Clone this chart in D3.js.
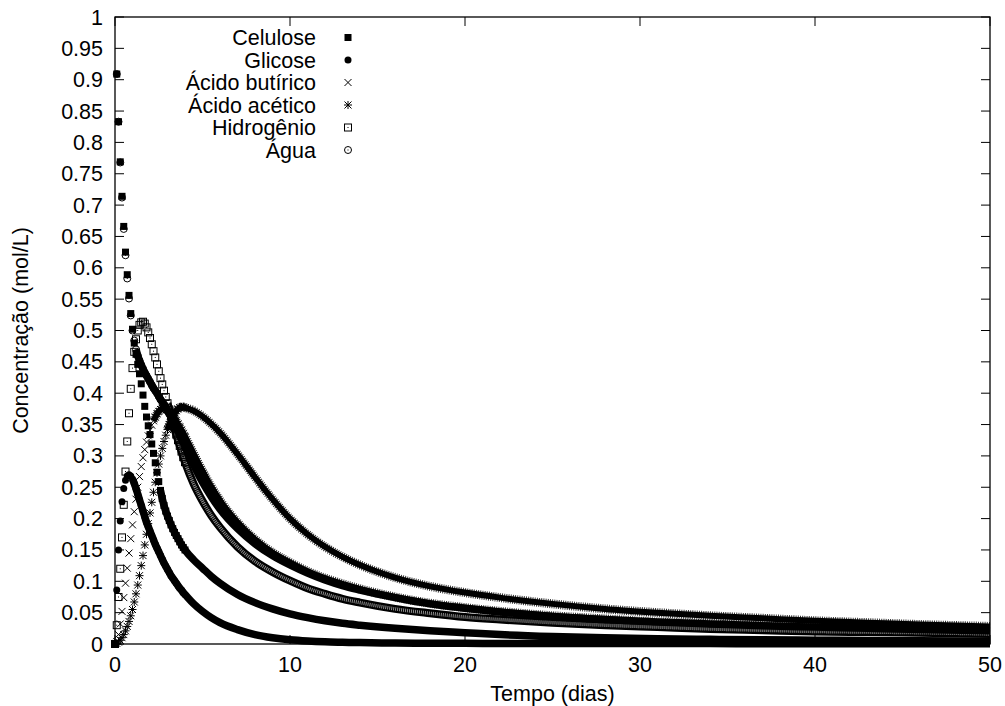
<!DOCTYPE html>
<html>
<head>
<meta charset="utf-8">
<script src="https://cdn.jsdelivr.net/npm/d3@7"></script>
<style>
  body { margin: 0; background: #fff; }
  svg { display: block; font-family: "Liberation Sans", Arial, Helvetica, sans-serif; }
</style>
</head>
<body>
<svg id="chart" width="1005" height="706"></svg>
<script>
// Tempo (dias): passo de 0.1 no início, mais espaçado na cauda
const tempo = [0,0.1,0.2,0.3,0.4,0.5,0.6,0.7,0.8,0.9,1,1.1,1.2,1.3,1.4,1.5,1.6,1.7,1.8,1.9,2,
  2.1,2.2,2.3,2.4,2.5,2.6,2.7,2.8,2.9,3,3.1,3.2,3.3,3.4,3.5,3.6,3.7,3.8,3.9,4,
  4.5,5,5.5,6,7,8,9,10,11,12,13,14,16,18,20,22,25,28,31,34,37,40,43,46,50];

// Concentrações (mol/L)
const celulose = [null,0.909,0.833,0.769,0.714,0.666,0.625,0.589,0.556,0.527,0.502,0.480,0.462,0.446,0.431,0.415,0.397,0.379,0.362,0.348,0.334,
  0.319,0.304,0.289,0.274,0.259,0.245,0.232,0.221,0.212,0.204,0.197,0.190,0.184,0.178,0.173,0.168,0.163,0.158,0.154,0.150,
  0.134,0.121,0.108,0.097,0.079,0.066,0.056,0.048,0.042,0.037,0.033,0.030,0.025,0.021,0.018,0.015,0.012,0.010,0.0085,0.0075,0.0066,0.006,0.0054,0.005,0.0045];
const glicose = [0,0.086,0.150,0.196,0.227,0.248,0.261,0.268,0.270,0.268,0.263,0.256,0.248,0.239,0.230,0.221,0.212,0.203,0.194,0.187,0.180,
  0.173,0.166,0.159,0.153,0.147,0.141,0.135,0.129,0.124,0.119,0.114,0.109,0.105,0.101,0.097,0.093,0.089,0.086,0.082,0.079,
  0.064,0.052,0.042,0.034,0.023,0.015,0.010,0.0068,0.0048,0.0035,0.0028,0.0022,0.0016,0.0012,0.001,0.0009,0.0008,0.0007,0.0006,0.0006,0.0005,0.0005,0.0005,0.0004,0.0004];
const acidoButirico = [0,0.004,0.015,0.032,0.052,0.074,0.097,0.121,0.145,0.168,0.190,0.211,0.231,0.250,0.267,0.283,0.297,0.310,0.322,0.332,0.341,
  0.349,0.356,0.362,0.367,0.371,0.374,0.376,0.376,0.375,0.373,0.371,0.368,0.364,0.360,0.356,0.351,0.346,0.341,0.336,0.331,
  0.303,0.276,0.251,0.229,0.194,0.167,0.146,0.130,0.116,0.105,0.096,0.088,0.075,0.065,0.058,0.052,0.045,0.040,0.035,0.032,0.029,0.027,0.025,0.023,0.021];
const acidoAcetico = [0,0.001,0.003,0.006,0.010,0.015,0.021,0.028,0.036,0.045,0.055,0.067,0.080,0.094,0.109,0.125,0.141,0.158,0.175,0.192,0.209,
  0.226,0.242,0.258,0.273,0.287,0.300,0.312,0.323,0.333,0.342,0.350,0.357,0.363,0.368,0.372,0.375,0.377,0.378,0.378,0.377,
  0.372,0.363,0.351,0.337,0.303,0.266,0.231,0.200,0.175,0.155,0.139,0.126,0.106,0.092,0.082,0.074,0.064,0.056,0.050,0.045,0.041,0.037,0.034,0.031,0.028];
const hidrogenio = [0,0.030,0.075,0.120,0.170,0.222,0.275,0.323,0.368,0.407,0.440,0.466,0.486,0.500,0.509,0.513,0.514,0.511,0.505,0.497,0.488,
  0.478,0.467,0.457,0.446,0.435,0.424,0.414,0.404,0.394,0.384,0.374,0.364,0.354,0.344,0.334,0.325,0.316,0.307,0.298,0.290,
  0.255,0.228,0.205,0.186,0.155,0.132,0.115,0.101,0.089,0.080,0.072,0.066,0.056,0.049,0.043,0.039,0.034,0.030,0.027,0.024,0.022,0.020,0.019,0.018,0.016];
const agua = [null,0.909,0.833,0.768,0.712,0.662,0.620,0.583,0.551,0.524,0.500,0.484,0.470,0.460,0.452,0.445,0.439,0.433,0.428,0.423,0.418,
  0.413,0.408,0.404,0.400,0.395,0.390,0.386,0.382,0.377,0.372,0.367,0.362,0.357,0.351,0.345,0.339,0.333,0.327,0.321,0.315,
  0.285,0.258,0.235,0.215,0.184,0.160,0.141,0.126,0.113,0.102,0.093,0.086,0.074,0.064,0.057,0.051,0.044,0.039,0.035,0.032,0.029,0.027,0.025,0.023,0.021];

const nomes = ["Celulose","Glicose","Ácido butírico","Ácido acético","Hidrogênio","Água"];
const valores = [celulose, glicose, acidoButirico, acidoAcetico, hidrogenio, agua];

const xTicks = [0,10,20,30,40,50];
const yTicks = [0,0.05,0.1,0.15,0.2,0.25,0.3,0.35,0.4,0.45,0.5,0.55,0.6,0.65,0.7,0.75,0.8,0.85,0.9,0.95,1];
const yTickLabels = ["0","0.05","0.1","0.15","0.2","0.25","0.3","0.35","0.4","0.45","0.5","0.55","0.6","0.65","0.7","0.75","0.8","0.85","0.9","0.95","1"];

// ---------------------------------------------------------------------------
const svg = d3.select("#chart");
const L = 115, R = 990, T = 17, B = 644;
const x = d3.scaleLinear().domain([0, 50]).range([L, R]);
const y = d3.scaleLinear().domain([0, 1]).range([B, T]);
const FS = 21.5;

// marker shapes (gnuplot-like point types)
const S = 3.5;
const markers = {
  boxFilled:  g => g.append("rect").attr("x",-S).attr("y",-S).attr("width",2*S).attr("height",2*S).attr("fill","#000"),
  circFilled: g => g.append("circle").attr("r",S).attr("fill","#000"),
  cross:      g => g.append("path").attr("d",`M${-S},${-S}L${S},${S}M${-S},${S}L${S},${-S}`).attr("stroke","#000").attr("stroke-width",1).attr("fill","none"),
  star:       g => g.append("path").attr("d",`M${-S},${-S}L${S},${S}M${-S},${S}L${S},${-S}M${-S-0.5},0H${S+0.5}M0,${-S-0.5}V${S+0.5}`).attr("stroke","#000").attr("stroke-width",1).attr("fill","none"),
  boxOpen:    g => { g.append("rect").attr("x",-S).attr("y",-S).attr("width",2*S).attr("height",2*S).attr("fill","none").attr("stroke","#000").attr("stroke-width",1);
                     g.append("rect").attr("x",-0.5).attr("y",-0.5).attr("width",1).attr("height",1).attr("fill","#000"); },
  circOpen:   g => { g.append("circle").attr("r",S).attr("fill","none").attr("stroke","#000").attr("stroke-width",1);
                     g.append("rect").attr("x",-0.5).attr("y",-0.5).attr("width",1).attr("height",1).attr("fill","#000"); }
};
const markerType = ["boxFilled","circFilled","cross","star","boxOpen","circOpen"];
// where the dense sampling makes the points merge into a continuous band
const bandFrom = [2.6, 1.0, 2.2, 3.0, 3.0, 1.2];
const markerUntil = 4.0;

// frame + ticks
const gAxes = svg.append("g");
const tick = 9;
yTicks.forEach((v, i) => {
  const yy = y(v);
  gAxes.append("line").attr("x1",L).attr("x2",L+tick).attr("y1",yy).attr("y2",yy).attr("stroke","#000").attr("stroke-width",1);
  gAxes.append("line").attr("x1",R).attr("x2",R-tick).attr("y1",yy).attr("y2",yy).attr("stroke","#000").attr("stroke-width",1);
  gAxes.append("text").attr("x",L-12).attr("y",yy).attr("dy","0.35em").attr("text-anchor","end")
    .attr("font-size",FS).text(yTickLabels[i]);
});
xTicks.forEach(v => {
  const xx = x(v);
  gAxes.append("line").attr("x1",xx).attr("x2",xx).attr("y1",B).attr("y2",B-tick).attr("stroke","#000").attr("stroke-width",1);
  gAxes.append("line").attr("x1",xx).attr("x2",xx).attr("y1",T).attr("y2",T+tick).attr("stroke","#000").attr("stroke-width",1);
  gAxes.append("text").attr("x",xx).attr("y",B+28).attr("text-anchor","middle").attr("font-size",FS).text(v);
});

// series
const line = d3.line().x(d => x(d.t)).y(d => y(d.v)).curve(d3.curveMonotoneX);
const gData = svg.append("g");
valores.forEach((vals, k) => {
  const pts = tempo.map((t, i) => ({t, v: vals[i]})).filter(d => d.v != null);
  const band = pts.filter(d => d.t >= bandFrom[k]);
  const g = gData.append("g");
  const type = markerType[k];
  if (type === "cross" || type === "star") {
    g.append("path").attr("d", line(band)).attr("fill","none").attr("stroke","#000")
      .attr("stroke-width",9).attr("stroke-dasharray","1 1.2").attr("opacity",0.8);
    g.append("path").attr("d", line(band)).attr("fill","none").attr("stroke","#000").attr("stroke-width",6);
  } else if (type === "boxOpen") {
    g.append("path").attr("d", line(band)).attr("fill","none").attr("stroke","#000").attr("stroke-width",8);
    g.append("path").attr("d", line(band)).attr("fill","none").attr("stroke","#8c8c8c")
      .attr("stroke-width",3.5).attr("stroke-dasharray","1 1");
  } else {
    g.append("path").attr("d", line(band)).attr("fill","none").attr("stroke","#000").attr("stroke-width",7.5);
  }
  pts.filter(d => d.t <= markerUntil).forEach(d => {
    const m = g.append("g").attr("transform", `translate(${x(d.t)},${y(d.v)})`);
    markers[type](m);
  });
});

// frame on top
svg.append("rect").attr("x",L).attr("y",T).attr("width",R-L).attr("height",B-T)
  .attr("fill","none").attr("stroke","#000").attr("stroke-width",1.3);

// legend
const legX = 316, legSym = 348, legY0 = 45, legDy = 22.5;
nomes.forEach((n, k) => {
  const by = legY0 + k * legDy;
  svg.append("text").attr("x",legX).attr("y",by).attr("text-anchor","end").attr("font-size",FS).text(n);
  const m = svg.append("g").attr("transform", `translate(${legSym},${by - 7.5})`);
  markers[markerType[k]](m);
});

// axis titles
svg.append("text").attr("x",(L+R)/2).attr("y",701).attr("text-anchor","middle").attr("font-size",FS).text("Tempo (dias)");
svg.append("text").attr("transform",`translate(28,${(T+B)/2}) rotate(-90)`).attr("text-anchor","middle")
  .attr("font-size",FS).text("Concentração (mol/L)");
</script>
</body>
</html>
